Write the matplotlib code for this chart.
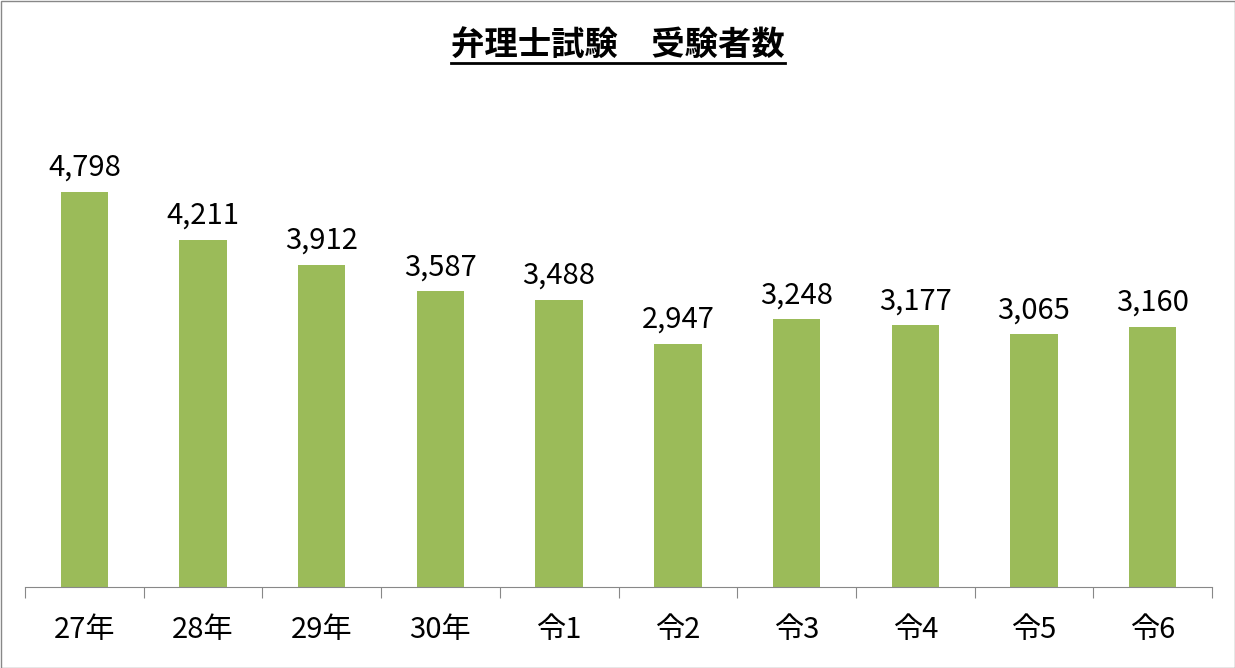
import matplotlib
matplotlib.use("Agg")
import matplotlib.pyplot as plt
from matplotlib.lines import Line2D
from matplotlib.patches import Rectangle

plt.rcParams['font.family'] = ['Noto Sans CJK JP', 'DejaVu Sans']

categories = ["27年", "28年", "29年", "30年", "令1", "令2", "令3", "令4", "令5", "令6"]
values = [4798, 4211, 3912, 3587, 3488, 2947, 3248, 3177, 3065, 3160]
title = "弁理士試験　受験者数"

W, H = 1235, 668
fig = plt.figure(figsize=(W/100, H/100), dpi=100)
ax = fig.add_axes([25/W, 1-587/H, (1212-25)/W, (587-175)/H])
x = range(len(categories))
ax.bar(x, values, width=0.4, color="#9BBB59")
for i, v in zip(x, values):
    ax.text(i, v + 110, f"{v:,}", ha="center", va="bottom", fontsize=21)
ax.set_xlim(-0.5, len(categories)-0.5)
ax.set_ylim(0, 5000)
for s in ["top", "right", "left"]:
    ax.spines[s].set_visible(False)
ax.spines["bottom"].set_color("#888888")
ax.set_yticks([])
ax.set_xticks([i - 0.5 for i in range(len(categories)+1)], minor=False)
ax.set_xticklabels([])
ax.tick_params(axis="x", length=8, color="#888888")
ax.set_xticks(list(x), minor=True)
ax.set_xticklabels(categories, minor=True, fontsize=21)
ax.tick_params(axis="x", which="minor", length=0, pad=20)

t = fig.text(618/W, 1-45/H, title, ha="center", va="center", fontsize=24, fontweight="bold")
fig.canvas.draw()
bb = t.get_window_extent()
fig.add_artist(Line2D([bb.x0/W, bb.x1/W], [(bb.y0-1)/H, (bb.y0-1)/H], color="black", lw=2, transform=fig.transFigure))
fig.add_artist(Rectangle((0.5/W, 0.5/H), 1-1/W, 1-1/H, fill=False, edgecolor="#888888", lw=1, transform=fig.transFigure))
fig.savefig("out.png", dpi=100)
